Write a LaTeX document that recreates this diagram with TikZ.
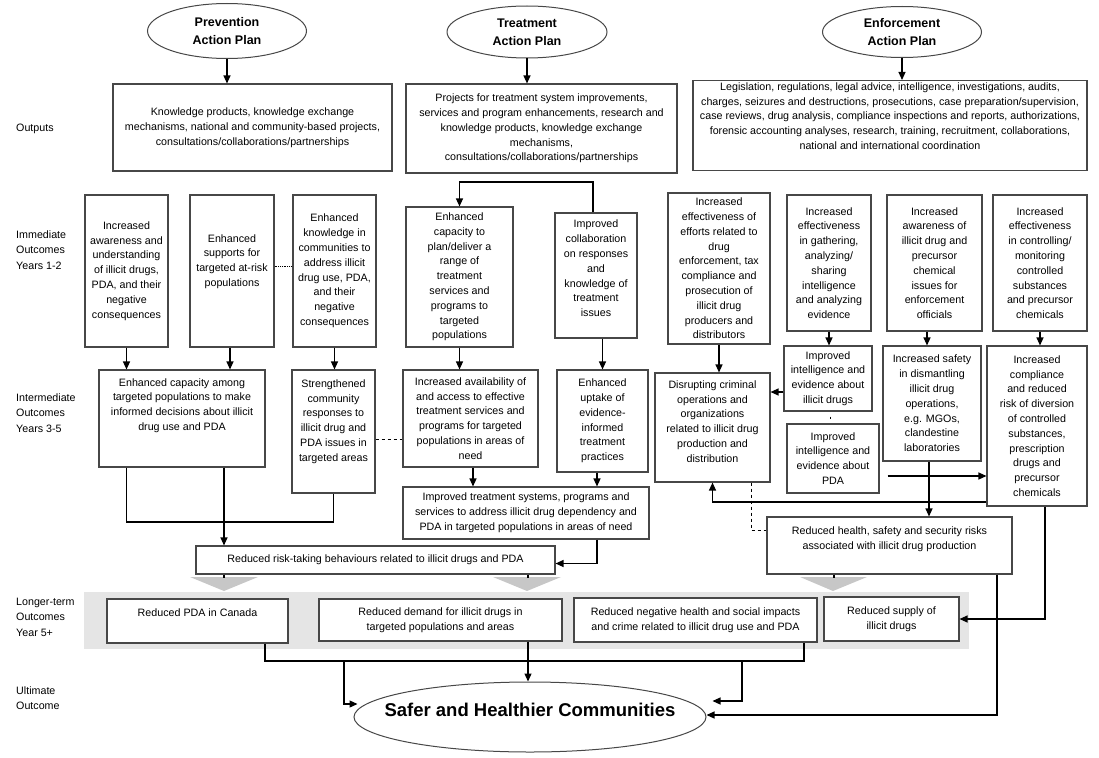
\documentclass[tikz,border=0pt]{standalone}
\usepackage{fontspec}
\setmainfont{Liberation Sans}
\usetikzlibrary{shapes.geometric,arrows.meta}

\newcommand{\boxfont}{\fontsize{10.7}{14.8}\selectfont}
\newcommand{\tierfont}{\fontsize{10.7}{15.5}\selectfont}
\newcommand{\planfont}{\fontsize{12.5}{18}\selectfont\bfseries}
\newcommand{\goalfont}{\fontsize{18.5}{22}\selectfont\bfseries}
\newcommand{\lift}[1]{\rule[-#1pt]{0pt}{#1pt}}

\begin{document}
\begin{tikzpicture}[x=1pt,y=-1pt,
    box/.style={draw=black!72, line width=1.1pt, fill=white, align=center, inner sep=2pt, font=\boxfont},
    plan/.style={ellipse, draw=black!72, line width=1pt, fill=white, align=center, inner sep=1pt, font=\planfont},
    arr/.style={line width=1.2pt, -{Triangle[length=8pt,width=7pt]}},
    link/.style={line width=1.2pt},
    tier/.style={anchor=west, align=left, inner sep=0pt, font=\tierfont},
    band/.style={fill=black!10},
    chev/.style={fill=black!22}]
    \useasboundingbox (0,0) rectangle (1099,757);

    \node[tier] (lout) at (16,129) {Outputs};
    \node[tier] (limm) at (16,250) {Immediate\\Outcomes\\Years 1-2};
    \node[tier] (lint) at (16,413) {Intermediate\\Outcomes\\Years 3-5};
    \node[tier] (llong) at (16,617) {Longer-term\\Outcomes\\Year 5+};
    \node[tier] (lult) at (16,698) {Ultimate\\Outcome};

    \fill[band] (84,592) rectangle (969,649);
    \fill[chev] (190,577) -- (258,577) -- (224,591) -- cycle;
    \fill[chev] (493,577) -- (561,577) -- (527,591) -- cycle;
    \fill[chev] (800,577) -- (867,577) -- (833,591) -- cycle;

    % action plans and outputs
    \node[plan, minimum width=159, minimum height=55] (prev) at (227,31) {Prevention\\Action Plan};
    \node[plan, minimum width=160, minimum height=52] (treat) at (527,32) {Treatment\\Action Plan};
    \node[plan, minimum width=159, minimum height=51] (enf) at (902,32) {Enforcement\\Action Plan};

    \node[box, minimum width=279, minimum height=87] (pout) at (252.5,127.5) {Knowledge products, knowledge exchange\\mechanisms, national and community-based projects,\\consultations/collaborations/partnerships};
    \node[box, minimum width=271, minimum height=89] (tout) at (541.5,128.5) {Projects for treatment system improvements,\\services and program enhancements, research and\\knowledge products, knowledge exchange\\mechanisms,\\consultations/collaborations/partnerships};
    \node[box, minimum width=394, minimum height=83] (eout) at (890,125.5) {Legislation, regulations, legal advice, intelligence, investigations, audits,\\charges, seizures and destructions, prosecutions, case preparation/supervision,\\case reviews, drug analysis, compliance inspections and reports, authorizations,\\forensic accounting analyses, research, training, recruitment, collaborations,\\national and international coordination\lift{19}};

    % immediate outcomes
    \node[box, minimum width=83, minimum height=152] (p1) at (126.5,271) {Increased\\awareness and\\understanding\\of illicit drugs,\\PDA, and their\\negative\\consequences};
    \node[box, minimum width=84, minimum height=152] (p2) at (232,271) {Enhanced\\supports for\\targeted at-risk\\populations\lift{21}};
    \node[box, minimum width=83, minimum height=152] (p3) at (334.5,271) {Enhanced\\knowledge in\\communities to\\address illicit\\drug use, PDA,\\and their\\negative\\consequences};
    \node[box, minimum width=107, minimum height=140] (te1) at (459.5,277) {Enhanced\\capacity to\\plan/deliver a\\range of\\treatment\\services and\\programs to\\targeted\\populations};
    \node[box, minimum width=82, minimum height=125] (te2) at (596,275.5) {Improved\\collaboration\\on responses\\and\\knowledge of\\treatment\\issues\lift{14}};
    \node[box, minimum width=102, minimum height=151] (e1) at (719,268.5) {Increased\\effectiveness of\\efforts related to\\drug\\enforcement, tax\\compliance and\\prosecution of\\illicit drug\\producers and\\distributors};
    \node[box, minimum width=84, minimum height=136] (e2) at (829,263) {Increased\\effectiveness\\in gathering,\\analyzing/\\sharing\\intelligence\\and analyzing\\evidence};
    \node[box, minimum width=95, minimum height=136] (e3) at (934.5,263) {Increased\\awareness of\\illicit drug and\\precursor\\chemical\\issues for\\enforcement\\officials};
    \node[box, minimum width=94, minimum height=136] (e4) at (1040,263) {Increased\\effectiveness\\in controlling/\\monitoring\\controlled\\substances\\and precursor\\chemicals};

    % intermediate outcomes
    \node[box, minimum width=166, minimum height=97] (pi1) at (182,418.5) {Enhanced capacity among\\targeted populations to make\\informed decisions about illicit\\drug use and PDA\lift{28}};
    \node[box, minimum width=83, minimum height=123] (pi2) at (333.5,431.5) {Strengthened\\community\\responses to\\illicit drug and\\PDA issues in\\targeted areas\lift{22}};
    \node[box, minimum width=135, minimum height=97] (ti1) at (470.5,418.5) {Increased availability of\\and access to effective\\treatment services and\\programs for targeted\\populations in areas of\\need};
    \node[box, minimum width=91, minimum height=102] (ti2) at (602.5,421) {Enhanced\\uptake of\\evidence-\\informed\\treatment\\practices};
    \node[box, minimum width=246, minimum height=52] (ts) at (526,513) {Improved treatment systems, programs and\\services to address illicit drug dependency and\\PDA in targeted populations in areas of need};
    \node[box, minimum width=359, minimum height=28] (risk) at (375.5,560) {Reduced risk-taking behaviours related to illicit drugs and PDA};
    \node[box, minimum width=115, minimum height=109] (ei1) at (712.5,427.5) {Disrupting criminal\\operations and\\organizations\\related to illicit drug\\production and\\distribution\lift{12}};
    \node[box, minimum width=88, minimum height=65] (ei2a) at (828,378.5) {Improved\\intelligence and\\evidence about\\illicit drugs};
    \node[box, minimum width=92, minimum height=69] (ei2b) at (833,458.5) {Improved\\intelligence and\\evidence about\\PDA};
    \node[box, minimum width=98, minimum height=115] (ei3) at (932,403.5) {Increased safety\\in dismantling\\illicit drug\\operations,\\e.g. MGOs,\\clandestine\\laboratories};
    \node[box, minimum width=100, minimum height=160] (ei4) at (1037,426) {Increased\\compliance\\and reduced\\risk of diversion\\of controlled\\substances,\\prescription\\drugs and\\precursor\\chemicals};
    \node[box, minimum width=245, minimum height=57] (health) at (889.5,545.5) {Reduced health, safety and security risks\\associated with illicit drug production\lift{15}};

    % longer-term and ultimate outcomes
    \node[box, minimum width=181, minimum height=44] (l1) at (197.5,621) {Reduced PDA in Canada\lift{16}};
    \node[box, minimum width=243, minimum height=42] (l2) at (440.5,620) {Reduced demand for illicit drugs in\\targeted populations and areas};
    \node[box, minimum width=243, minimum height=44] (l3) at (695.5,620) {Reduced negative health and social impacts\\and crime related to illicit drug use and PDA};
    \node[box, minimum width=135, minimum height=44] (l4) at (891.5,619) {Reduced supply of\\illicit drugs};
    \node[plan, font=\goalfont, minimum width=352, minimum height=70] (ult) at (530,717) {\makebox[0pt]{Safer and Healthier Communities\lift{14}}};

    \draw[arr] (prev.south) -- (prev.south |- pout.north);
    \draw[arr] (treat.south) -- (treat.south |- tout.north);
    \draw[arr] (enf.south) -- (enf.south |- eout.north);

    \draw[arr] (p1.south) -- (p1.south |- pi1.north);
    \draw[arr] ([xshift=-2pt]p2.south) -- ([xshift=-2pt]p2.south |- pi1.north);
    \draw[arr] (p3.south) -- (p3.south |- pi2.north);
    \draw[link, line width=0.8pt, densely dotted] ([yshift=5pt]p2.east) -- ([yshift=5pt]p2.east -| p3.west);
    \draw[link] (p1.south |- pi1.south) -- (p1.south |- 0,522) -| (pi2.south);
    \draw[arr] (pi1.south -| 224,0) -- (risk.north -| 224,0);
    \draw[link, line width=1pt, dashed] (pi2.east |- 0,439) -- (ti1.west |- 0,439);

    \draw[arr] ([xshift=-3pt]te2.north) |- (te1.north |- 0,182) -- (te1.north);
    \draw[arr] (te1.south) -- (te1.south |- ti1.north);
    \draw[arr] (ti2.north |- te2.south) -- (ti2.north);
    \draw[arr] (ti1.south -| 473,0) -- (ts.north -| 473,0);
    \draw[arr] (ti2.south -| 597,0) -- (ts.north -| 597,0);
    \draw[arr] (ts.south -| 597,0) |- ([yshift=-3.5pt]risk.east);

    \draw[arr] (e1.south) -- (e1.south |- ei1.north);
    \draw[arr] (e2.south) -- (e2.south |- ei2a.north);
    \draw[arr] (e3.south -| 927,0) -- (ei3.north -| 927,0);
    \draw[arr] (e4.south) -- (e4.south |- ei4.north);
    \draw[arr] (ei2a.west |- 0,392) -- (ei1.east |- 0,392);
    \draw[link, line width=0.6pt, shorten <=5pt, shorten >=4pt] (ei2a.south -| 830,0) -- (ei2b.north -| 830,0);
    \draw[arr] ([xshift=8pt]ei2b.east |- 0,476) -- (ei4.west |- 0,476);
    \draw[arr] (ei4.west |- 0,502) -| (ei1.south);
    \draw[arr] (ei3.south -| 929,0) -- (health.north -| 929,0);
    \draw[link, line width=1pt, dashed] (ei1.south -| 751,0) |- (health.west |- 0,530);

    \draw[link] (risk.south -| 224,0) -- (224,578);
    \draw[link] (risk.south -| 528,0) -- (528,578);
    \draw[link] (health.south -| 834,0) -- (834,578);

    \coordinate (busl) at (344,661);
    \coordinate (busr) at (742,661);
    \draw[link] (l1.south -| 265,0) |- (804,661) -- (l3.south -| 804,0);
    \draw[arr] (busl) |- ([xshift=4pt,yshift=13pt]ult.west);
    \draw[arr] (l2.south -| 528,0) -- (ult.north -| 528,0);
    \draw[arr] (busr) |- ([xshift=6pt,yshift=16pt]ult.east);
    \draw[arr] (health.south -| 997,0) |- ([yshift=2pt]ult.east);
    \draw[arr] (ei4.south -| 1045,0) |- (l4.east);

\end{tikzpicture}
\end{document}
